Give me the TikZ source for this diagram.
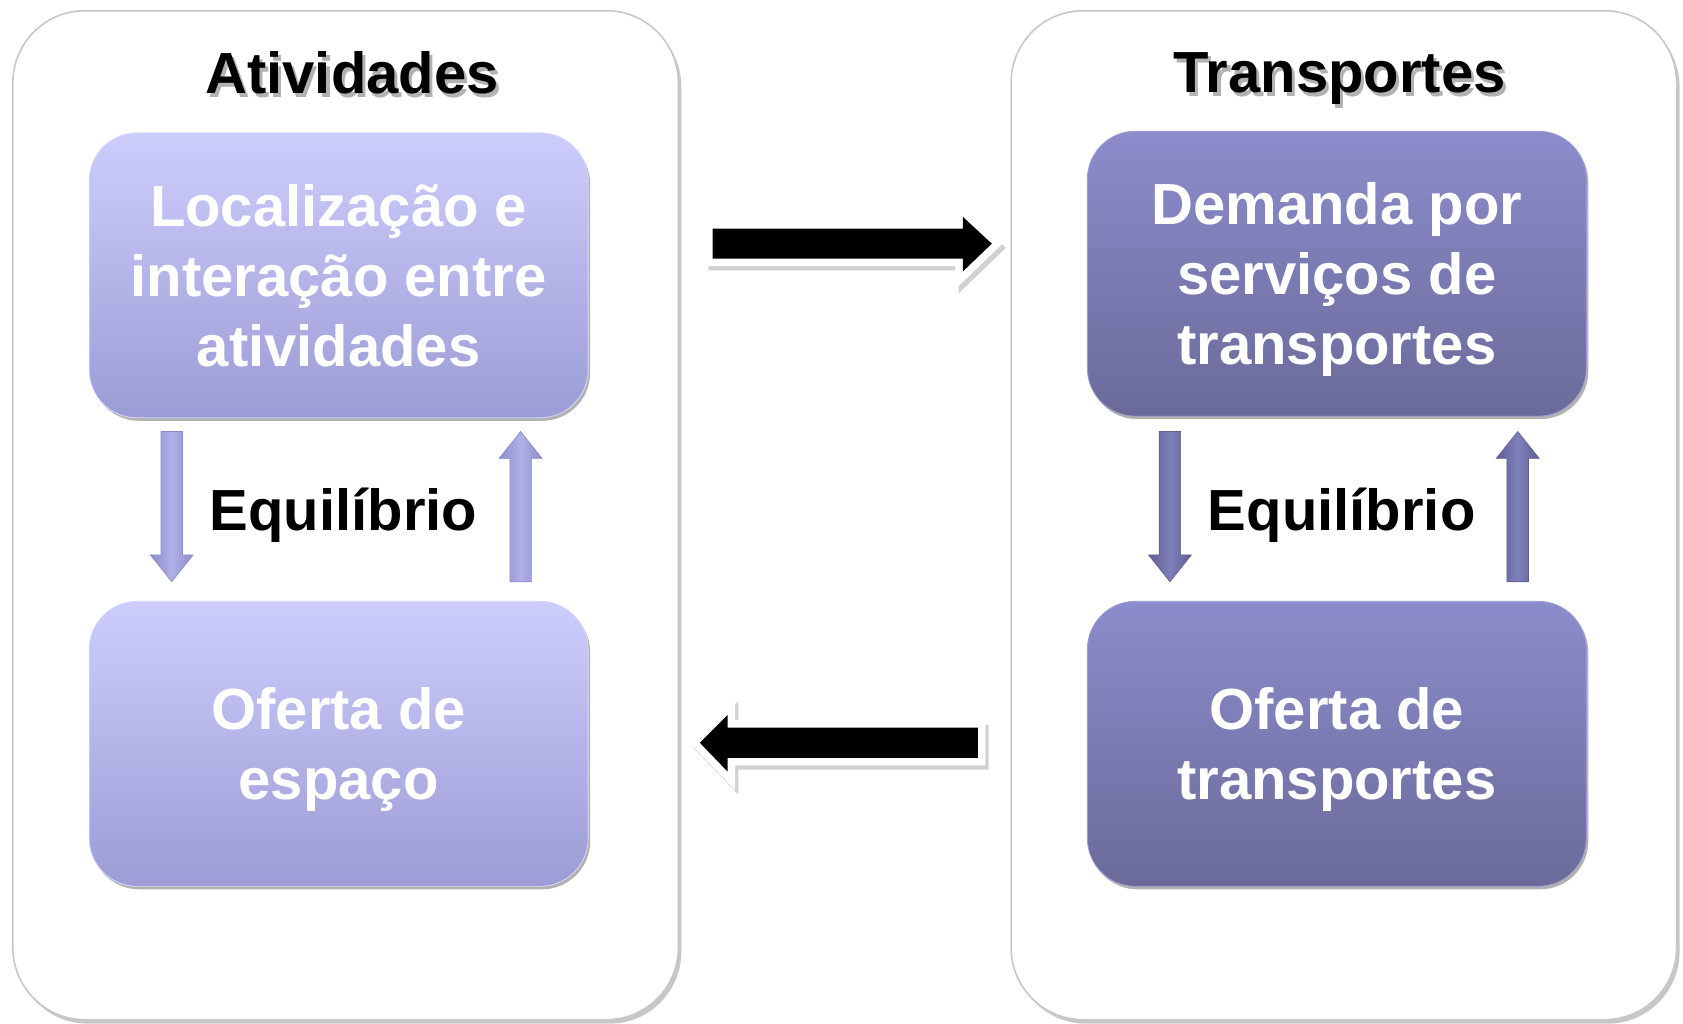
\documentclass[tikz,border=0pt]{standalone}
\usepackage{fontspec}
\setmainfont{Liberation Sans}
\usetikzlibrary{shadows}
\definecolor{lavTop}{RGB}{205,205,252}
\definecolor{lavBot}{RGB}{156,156,214}
\definecolor{darkTop}{RGB}{140,140,204}
\definecolor{darkBot}{RGB}{106,106,154}
\definecolor{sArrL}{RGB}{176,176,232}
\definecolor{sArrLd}{RGB}{140,140,200}
\definecolor{sArrR}{RGB}{126,126,188}
\definecolor{sArrRd}{RGB}{96,96,146}
\definecolor{frame}{RGB}{200,200,200}
\newcommand\bigfont{\bfseries\fontsize{58}{70}\selectfont}
\newcommand\downarr[4]{\path[#1] (#2-10,#3) -- (#2+10,#3) -- (#2+10,#4-25) -- (#2+20,#4-25) -- (#2,#4) -- (#2-20,#4-25) -- (#2-10,#4-25) -- cycle;}
\newcommand\uparr[4]{\path[#1] (#2-10,#4) -- (#2+10,#4) -- (#2+10,#3+25) -- (#2+20,#3+25) -- (#2,#3) -- (#2-20,#3+25) -- (#2-10,#3+25) -- cycle;}
\begin{document}
\begin{tikzpicture}[x=1.0734pt,y=-1.0734pt,
  outerbox/.style={draw=frame, line width=1.6pt, fill=white, rounded corners=72pt,
    drop shadow={shadow xshift=3pt, shadow yshift=-4pt, opacity=0.22, fill=black}},
  innerbox/.style={rounded corners=48pt, minimum width=499pt, minimum height=285pt,
    align=center, text=white, font=\bigfont, inner sep=0pt, text depth=0pt,
    drop shadow={shadow xshift=2pt, shadow yshift=-3pt, opacity=0.3, fill=black}},
  lightbox/.style={innerbox, top color=lavTop, bottom color=lavBot, draw=lavTop!80!white, line width=0.8pt},
  darkbox/.style={innerbox, top color=darkTop, bottom color=darkBot, draw=darkTop!85!white, line width=0.8pt},
  titletext/.style={font=\bigfont, text=black, inner sep=0pt, text depth=0pt},
  titleshadow/.style={font=\bigfont, text=black!30, inner sep=0pt, text depth=0pt},
  eqtext/.style={font=\bigfont, text=black, inner sep=0pt, text depth=0pt},
  smallL/.style={left color=sArrLd, right color=sArrLd, middle color=sArrL, draw=sArrLd, line width=0.6pt},
  smallR/.style={left color=sArrRd, right color=sArrRd, middle color=sArrR, draw=sArrRd, line width=0.6pt},
  bigwhite/.style={fill=white, draw=white, line width=15pt, line join=miter},
  bigblack/.style={fill=black},
  bigshadow/.style={fill=black, draw=black, line width=15pt, line join=miter, opacity=0.18}
]
\fill[white] (0,0) rectangle (1568,954);
\useasboundingbox (0,0) rectangle (1568,954);

% outer panels
\path[outerbox] (12,10) rectangle (632,950);
\path[outerbox] (942,10) rectangle (1562,950);

% titles
\node[titleshadow] at (331,71) {Atividades};
\node[titletext] (tA) at (328,68) {Atividades};
\node[titleshadow] at (1251,71) {Transportes};
\node[titletext] (tT) at (1248,68) {Transportes};

% inner boxes
\node[lightbox] (loc) at (315.5,256.5) {Localização e\\interação entre\\atividades};
\node[lightbox] (esp) at (315.5,693) {Oferta de\\espaço};
\node[darkbox] (dem) at (1245.5,255) {Demanda por\\serviços de\\transportes};
\node[darkbox] (otr) at (1245.5,693) {Oferta de\\transportes};

% equilibrium labels
\node[eqtext] (eqL) at (320,474.5) {Equilíbrio};
\node[eqtext] (eqR) at (1250,474.5) {Equilíbrio};

% small block arrows
\downarr{smallL}{160}{402}{542}
\uparr{smallL}{485}{402}{542}
\downarr{smallR}{1090}{402}{542}
\uparr{smallR}{1414}{402}{542}

% big black arrows
\coordinate (r0) at (664,227);
\coordinate (r1) at (924,227);
\coordinate (l0) at (911,692);
\coordinate (l1) at (652,692);
\begin{scope}[shift={(3,4)}]
\path[bigshadow] (664,213) -- (897,213) -- (897,202) -- (924,227) -- (897,253) -- (897,241) -- (664,241) -- cycle;
\path[bigshadow] (911,678) -- (678,678) -- (678,666) -- (652,692) -- (678,719) -- (678,706) -- (911,706) -- cycle;
\end{scope}
\path[bigwhite] (r0) ++(0,-14) -- (897,213) -- (897,202) -- (r1) -- (897,253) -- (897,241) -- (664,241) -- cycle;
\path[bigwhite] (l0) ++(0,-14) -- (678,678) -- (678,666) -- (l1) -- (678,719) -- (678,706) -- (911,706) -- cycle;
\path[bigblack] (r0) ++(0,-14) -- (897,213) -- (897,202) -- (r1) -- (897,253) -- (897,241) -- (664,241) -- cycle;
\path[bigblack] (l0) ++(0,-14) -- (678,678) -- (678,666) -- (l1) -- (678,719) -- (678,706) -- (911,706) -- cycle;
\end{tikzpicture}
\end{document}
